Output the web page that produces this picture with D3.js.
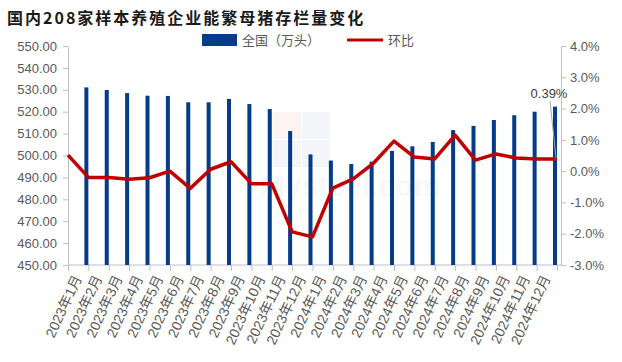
<!DOCTYPE html>
<html>
<head>
<meta charset="utf-8">
<script src="https://cdn.jsdelivr.net/npm/d3@7"></script>
<style>
  body { margin: 0; background: #fff; }
  svg { display: block; }
</style>
</head>
<body>
<div id="chart"></div>
<script>
const months = [
  '2023年1月', '2023年2月', '2023年3月', '2023年4月', '2023年5月', '2023年6月',
  '2023年7月', '2023年8月', '2023年9月', '2023年10月', '2023年11月', '2023年12月',
  '2024年1月', '2024年2月', '2024年3月', '2024年4月', '2024年5月', '2024年6月',
  '2024年7月', '2024年8月', '2024年9月', '2024年10月', '2024年11月', '2024年12月'
];
// 全国（万头）
const stock = [531.1, 529.9, 528.5, 527.3, 527.2, 524.3, 524.3, 525.8, 523.5, 521.2, 511.2, 500.5,
  497.7, 496.1, 497.2, 502.1, 504.2, 506.2, 511.6, 513.5, 516.2, 518.4, 520.0, 522.3];
// 环比 (%), first point is the month before 2023年1月
const momChange = [0.51, -0.20, -0.20, -0.26, -0.21, 0.00, -0.55, 0.06, 0.30, -0.40, -0.40, -1.94, -2.10,
  -0.54, -0.25, 0.26, 0.96, 0.45, 0.39, 1.15, 0.35, 0.55, 0.42, 0.39, 0.39];
const leftTicks = [450, 460, 470, 480, 490, 500, 510, 520, 530, 540, 550];
const rightTicks = [-3, -2, -1, 0, 1, 2, 3, 4];

const width = 622, height = 362;
const plotL = 68, plotR = 561, plotT = 46, plotB = 265;
const axisColor = '#bfbfbf', textColor = '#595959';
const blue = '#043c8a', red = '#c00000';

const svg = d3.select('#chart').append('svg')
  .attr('width', width)
  .attr('height', height);

const x = d3.scaleLinear().domain([0, months.length]).range([plotL, 557]);
const yL = d3.scaleLinear().domain([450, 550]).range([plotB, plotT]);
const yR = d3.scaleLinear().domain([-3, 4]).range([plotB, plotT]);

// title
svg.append('text')
  .attr('x', 7).attr('y', 24)
  .attr('font-family', '"Noto Sans CJK SC", sans-serif')
  .attr('font-size', 16).attr('font-weight', 'bold')
  .attr('letter-spacing', 2)
  .attr('fill', '#1a1a1a')
  .text('国内208家样本养殖企业能繁母猪存栏量变化');

// watermark
const wm = svg.append('g').attr('opacity', 0.045)
  .attr('font-family', '"Noto Sans CJK SC", sans-serif').attr('font-weight', 'bold');
wm.append('rect').attr('x', 273).attr('y', 112).attr('width', 28).attr('height', 27).attr('fill', '#c00000');
wm.append('rect').attr('x', 302).attr('y', 112).attr('width', 28).attr('height', 27).attr('fill', '#1f3b7a');
wm.append('rect').attr('x', 273).attr('y', 140).attr('width', 28).attr('height', 27).attr('fill', '#1f3b7a');
wm.append('rect').attr('x', 302).attr('y', 140).attr('width', 28).attr('height', 27).attr('fill', '#1f3b7a');
wm.append('text').attr('x', 260).attr('y', 196).attr('font-size', 30).attr('fill', '#666')
  .attr('font-family', '"Liberation Sans", sans-serif').text('Mysteel.com');

// left axis
const gL = svg.append('g').attr('transform', `translate(${plotL},0)`)
  .call(d3.axisLeft(yL).tickValues(leftTicks).tickFormat(d => d.toFixed(2))
    .tickSize(5).tickSizeOuter(0).tickPadding(6));
// right axis
const gR = svg.append('g').attr('transform', `translate(${plotR},0)`)
  .call(d3.axisRight(yR).tickValues(rightTicks).tickFormat(d => d.toFixed(1) + '%')
    .tickSize(5).tickSizeOuter(0).tickPadding(4));
[gL, gR].forEach(g => {
  g.selectAll('path, line').attr('stroke', axisColor);
  g.selectAll('text').attr('fill', textColor)
    .attr('font-family', '"Liberation Sans", Arial, sans-serif').attr('font-size', 13);
});

// bottom axis
const gX = svg.append('g').attr('transform', `translate(0,${plotB})`)
  .call(d3.axisBottom(x).tickValues(d3.range(0, months.length + 1)).tickFormat('')
    .tickSize(6).tickSizeOuter(0));
gX.select('.domain').remove();
gX.selectAll('line').attr('stroke', axisColor);
gX.append('line').attr('x1', plotL).attr('x2', plotR).attr('stroke', axisColor);

svg.append('g').selectAll('text').data(months).join('text')
  .attr('transform', (d, i) => `translate(${x(i + 0.5) + 4},${plotB + 13}) rotate(-65)`)
  .attr('text-anchor', 'end')
  .attr('font-family', '"Liberation Sans", "Noto Sans CJK SC", sans-serif')
  .attr('font-size', 14)
  .attr('fill', textColor)
  .text(d => d);

// bars
const barW = 4;
svg.append('g').selectAll('rect').data(stock).join('rect')
  .attr('x', (d, i) => x(i + 1) - 2 - barW / 2)
  .attr('y', d => yL(d))
  .attr('width', barW)
  .attr('height', d => yL(450) - yL(d))
  .attr('fill', blue);

// line
const line = d3.line().x((d, i) => x(i)).y(d => yR(d));
svg.append('path').datum(momChange)
  .attr('d', line)
  .attr('fill', 'none')
  .attr('stroke', red)
  .attr('stroke-width', 3.5)
  .attr('stroke-linejoin', 'round');

// last value label
const lastI = momChange.length - 1;
svg.append('line')
  .attr('x1', x(lastI) - 7).attr('y1', 101)
  .attr('x2', x(lastI) - 1).attr('y2', yR(momChange[lastI]) - 1)
  .attr('stroke', '#a6a6a6').attr('stroke-width', 1);
svg.append('text')
  .attr('x', x(lastI) - 8).attr('y', 98)
  .attr('text-anchor', 'middle')
  .attr('font-family', '"Liberation Sans", Arial, sans-serif')
  .attr('font-size', 13)
  .attr('fill', '#404040')
  .text(momChange[lastI].toFixed(2) + '%');

// legend
const lg = svg.append('g')
  .attr('font-family', '"Noto Sans CJK SC", sans-serif')
  .attr('font-size', 13).attr('fill', textColor);
lg.append('rect').attr('x', 202).attr('y', 34).attr('width', 35).attr('height', 12).attr('fill', blue);
lg.append('text').attr('x', 242).attr('y', 45).text('全国（万头）');
lg.append('line').attr('x1', 347).attr('x2', 383).attr('y1', 40).attr('y2', 40)
  .attr('stroke', red).attr('stroke-width', 3);
lg.append('text').attr('x', 388).attr('y', 45).text('环比');
</script>
</body>
</html>
